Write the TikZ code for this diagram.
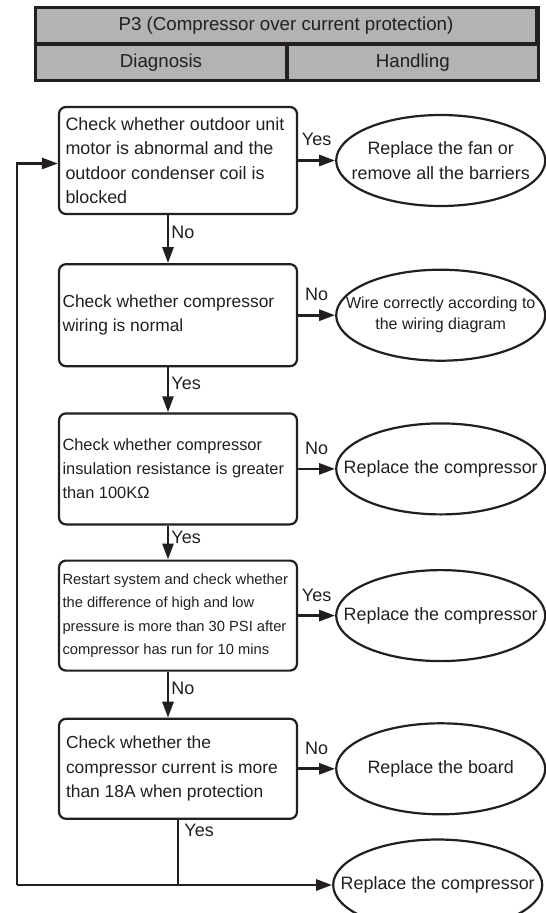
\documentclass[tikz,border=0pt]{standalone}
\usepackage{fontspec}
\setmainfont{Liberation Sans}
\usetikzlibrary{shapes.geometric, arrows.meta, positioning, calc}
\definecolor{ink}{HTML}{231F20}
\definecolor{headgray}{HTML}{B3B3B3}

\begin{document}
\begin{tikzpicture}[x=1pt, y=1pt, color=ink, text=ink,
    head/.style={rectangle, draw, fill=headgray, line width=1.8pt, minimum height=35pt, inner sep=0pt, font=\fontsize{18.7}{22}\selectfont},
    check/.style={rectangle, rounded corners=7pt, draw, line width=2.2pt, text width=231pt, inner xsep=3.5pt, inner ysep=3pt, align=flush left, font=\fontsize{17.4}{24.5}\selectfont},
    result/.style={ellipse, draw, line width=2.2pt, minimum width=209pt, minimum height=91pt, inner sep=0pt},
    rtext/.style={align=center, inner sep=0pt, font=\fontsize{17.9}{25}\selectfont},
    arrow/.style={-{Triangle[length=16pt, width=11pt]}, line width=2.8pt},
    lbl/.style={font=\fontsize{18}{20}\selectfont, inner sep=2pt}
]
    \useasboundingbox (0,0) rectangle (546,-913);

    % header table
    \node[head, minimum width=500pt] (title) at (286,-25.5) {P3 (Compressor over current protection)};
    \node[head, minimum width=250pt, anchor=north west] (diag) at (title.south west) {Diagnosis};
    \node[head, minimum width=250pt, anchor=north west] (handle) at (diag.north east) {Handling};
    \draw[line width=3pt] (title.north west) rectangle (handle.south east);

    % checks
    \node[check, minimum height=107pt, text width=225pt, inner xsep=6.5pt, font=\fontsize{17.9}{24.5}\selectfont] (motor) at (178,-160.5)
        {Check whether outdoor unit\\motor is abnormal and the\\outdoor condenser coil is\\blocked};
    \node[check, minimum height=102pt, below=48pt of motor] (wiring)
        {Check whether compressor\\wiring is normal\\[-8pt]};
    \node[check, minimum height=111pt, below=45pt of wiring, font=\fontsize{16.4}{24}\selectfont] (insul)
        {Check whether compressor\\insulation resistance is greater\\than 100KΩ};
    \node[check, minimum height=110pt, below=34pt of insul, font=\fontsize{14.7}{23.5}\selectfont] (pressure)
        {Restart system and check whether\\the difference of high and low\\pressure is more than 30 PSI after\\compressor has run for 10 mins};
    \node[check, minimum height=100pt, below=46pt of pressure, text width=224pt, inner xsep=7pt] (current)
        {Check whether the\\compressor current is more\\than 18A when protection\\[-10pt]};

    % results
    \node[result, right=37pt of motor, label={[rtext]center:Replace the fan or\\remove all the barriers}] (fan) {};
    \node[result, right=37pt of wiring, label={[rtext, font=\fontsize{16}{21}\selectfont]center:Wire correctly according to\\the wiring diagram}] (rewire) {};
    \node[result, right=37pt of insul, label={[rtext]center:Replace the compressor}] (comp1) {};
    \node[result, right=37pt of pressure, label={[rtext]center:Replace the compressor}] (comp2) {};
    \node[result, right=37pt of current, label={[rtext]center:Replace the board}] (board) {};
    \node[result, below=23pt of board, xshift=-3pt, label={[rtext]center:Replace the compressor}] (comp3) {};

    % main line
    \draw[arrow] ([xshift=-10pt]motor.south) -- node[lbl, right, pos=0.36] {No} ([xshift=-10pt]wiring.north);
    \draw[arrow] ([xshift=-10pt]wiring.south) -- node[lbl, right, pos=0.36] {Yes} ([xshift=-10pt]insul.north);
    \draw[arrow] ([xshift=-10pt]insul.south) -- node[lbl, right, pos=0.36] {Yes} ([xshift=-10pt]pressure.north);
    \draw[arrow] ([xshift=-10pt]pressure.south) -- node[lbl, right, pos=0.36] {No} ([xshift=-10pt]current.north);

    % branches
    \draw[arrow] (motor.east |- fan.west) -- node[lbl, above=11pt] {Yes} (fan.west);
    \draw[arrow] (wiring.east |- rewire.west) -- node[lbl, above=11pt] {No} (rewire.west);
    \draw[arrow] (insul.east |- comp1.west) -- node[lbl, above=11pt] {No} (comp1.west);
    \draw[arrow] (pressure.east |- comp2.west) -- node[lbl, above=11pt] {Yes} (comp2.west);
    \draw[arrow] (current.east |- board.west) -- node[lbl, above=11pt] {No} (board.west);

    % back loop
    \coordinate (split) at (current.south |- comp3.west);
    \coordinate (back) at ($(split)+(-161,0)$);
    \draw[line width=2.8pt] (current.south) -- node[lbl, right=3pt, pos=0.16] {Yes} (split);
    \draw[arrow] (back) -- (comp3.west);
    \draw[arrow] (back) |- ([yshift=-3pt]motor.west);
\end{tikzpicture}
\end{document}
